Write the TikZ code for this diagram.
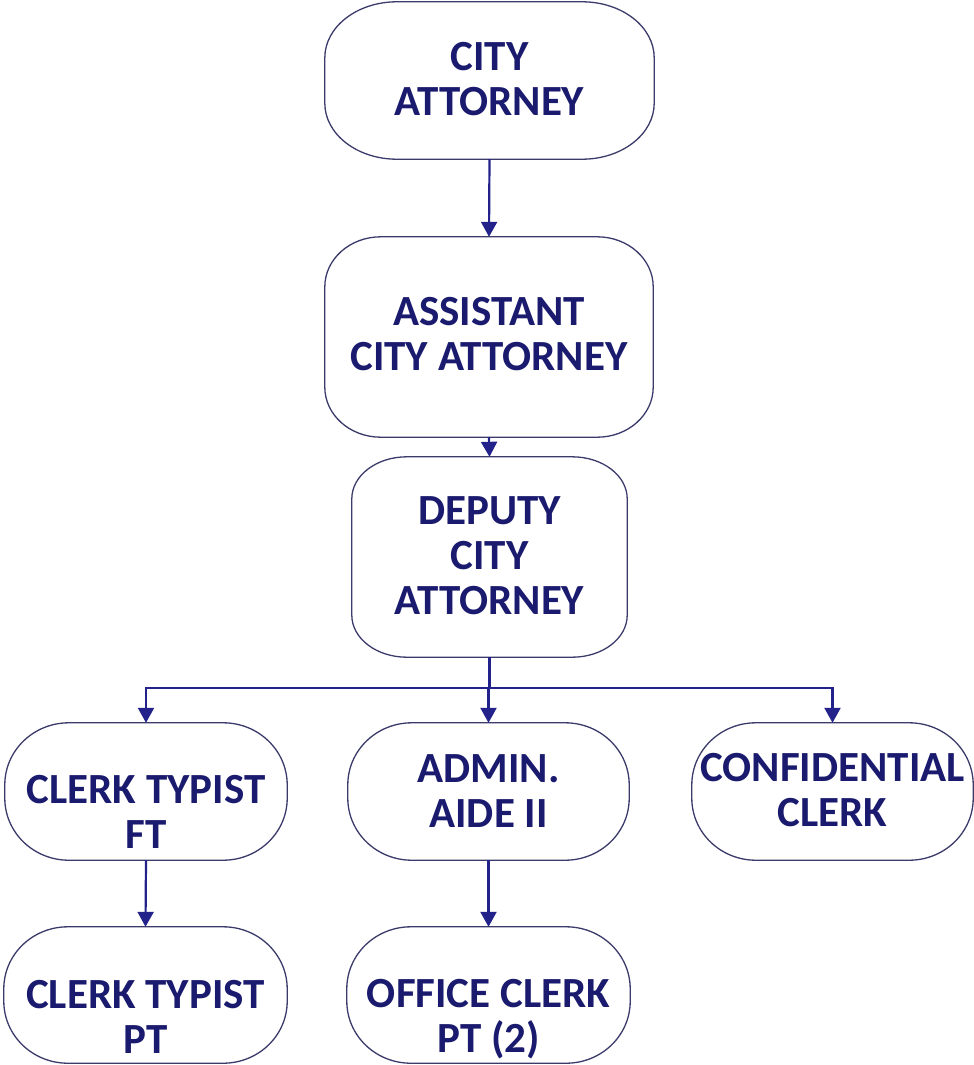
\documentclass[tikz,border=0pt]{standalone}
\usepackage{fontspec}
\setmainfont{Carlito}
\usetikzlibrary{arrows.meta}

\definecolor{inknavy}{HTML}{1A1A6E}
\definecolor{linknavy}{HTML}{22228A}
\definecolor{edgenavy}{HTML}{3B3B6B}

% outline of a slot node with elliptical corners (rx, ry in pt)
\newcommand\rndbox[3]{%
  \draw[boxedge]
    ([xshift=#2pt]#1.north west) -- ([xshift=-#2pt]#1.north east)
    arc[start angle=90, end angle=0, x radius=#2pt, y radius=#3pt]
    -- ([yshift=#3pt]#1.south east)
    arc[start angle=0, end angle=-90, x radius=#2pt, y radius=#3pt]
    -- ([xshift=#2pt]#1.south west)
    arc[start angle=-90, end angle=-180, x radius=#2pt, y radius=#3pt]
    -- ([yshift=-#3pt]#1.north west)
    arc[start angle=180, end angle=90, x radius=#2pt, y radius=#3pt]
    -- cycle;}

\tikzset{
  slot/.style={rectangle, inner sep=0pt, draw=none},
  boxedge/.style={draw=edgenavy, line width=1.3pt, fill=white},
  lbl/.style={align=center, text=inknavy, inner sep=0pt,
    font=\fontsize{43}{45}\selectfont\bfseries},
  link/.style={draw=linknavy, line width=2.2pt},
  arr/.style={link, -{Triangle[width=16pt,length=15pt]}}
}

\begin{document}
\begin{tikzpicture}[x=1pt, y=-1pt]
\useasboundingbox (0,0) rectangle (974,1065);

% position slots
\node[slot, minimum width=329pt, minimum height=157pt] (ca)   at (489.5, 80.5) {};
\node[slot, minimum width=328pt, minimum height=200pt] (aca)  at (489, 337) {};
\node[slot, minimum width=275pt, minimum height=200pt] (dca)  at (489.5, 557) {};
\node[slot, minimum width=282pt, minimum height=137pt] (ctf)  at (146, 791.5) {};
\node[slot, minimum width=281pt, minimum height=137pt] (aide) at (488.5, 791.5) {};
\node[slot, minimum width=281pt, minimum height=137pt] (conf) at (832.5, 791.5) {};
\node[slot, minimum width=283pt, minimum height=136pt] (ctp)  at (145.5, 995) {};
\node[slot, minimum width=283pt, minimum height=136pt] (oc)   at (488.5, 995) {};

% box outlines
\rndbox{ca}{72}{56}
\rndbox{aca}{56}{50}
\rndbox{dca}{55}{42}
\rndbox{ctf}{64}{62}
\rndbox{aide}{64}{62}
\rndbox{conf}{64}{62}
\rndbox{ctp}{64}{62}
\rndbox{oc}{64}{62}

% labels
\node[lbl] (ca-t)   at ([yshift=1pt]ca.center)   {CITY\\ATTORNEY};
\node[lbl] (aca-t)  at ([yshift=3pt]aca.center)  {ASSISTANT\\CITY ATTORNEY};
\node[lbl] (dca-t)  at ([yshift=1pt]dca.center)  {DEPUTY\\CITY\\ATTORNEY};
\node[lbl] (ctf-t)  at ([yshift=-20pt]ctf.center) {CLERK TYPIST\\FT};
\node[lbl] (aide-t) at (aide.center)             {ADMIN.\\AIDE II};
\node[lbl] (conf-t) at ([yshift=1pt]conf.center) {CONFIDENTIAL\\CLERK};
\node[lbl] (ctp-t)  at ([yshift=-22pt]ctp.center) {CLERK TYPIST\\PT};
\node[lbl] (oc-t)   at ([yshift=-24pt]oc.center)  {OFFICE CLERK\\PT (2)};

% connectors
\coordinate (bus) at (489.5, 688);
\draw[arr] (ca.south) -- (aca.north);
\draw[arr] (aca.south) -- (dca.north);
\draw[link] (dca.south) -- (bus);
\draw[arr] (bus) -| (ctf.north);
\draw[arr] (bus) -- (bus -| aide.north) -- (aide.north);
\draw[arr] (bus) -| (conf.north);
\draw[arr] (ctf.south) -- (ctp.north);
\draw[arr] (aide.south) -- (oc.north);
\end{tikzpicture}
\end{document}
